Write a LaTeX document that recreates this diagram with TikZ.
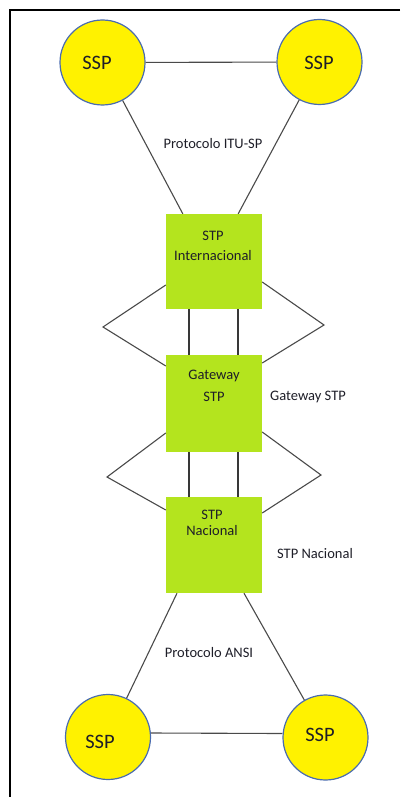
\documentclass[tikz,border=0pt]{standalone}
\usepackage{fontspec}
\setmainfont{Carlito}
\definecolor{sspfill}{HTML}{FFF200}
\definecolor{sspedge}{HTML}{4A6CB0}
\definecolor{stpfill}{HTML}{B4E41E}
\definecolor{linkgray}{HTML}{4A4A4A}
\definecolor{trunkgray}{HTML}{383838}
\definecolor{inkdark}{HTML}{1E1E28}
\tikzset{
  ssp/.style={circle, fill=sspfill, draw=sspedge, line width=1.2pt,
              minimum size=85pt, inner sep=0pt},
  stpbox/.style={rectangle, fill=stpfill, minimum width=96pt,
                 minimum height=95pt, inner sep=0pt},
  ssptext/.style={text=inkdark, font=\fontsize{20.5}{22}\selectfont, inner sep=0pt},
  boxtext/.style={text=inkdark, font=\fontsize{14.5}{20}\selectfont,
                  align=center, inner sep=0pt},
  lbl/.style={text=inkdark, font=\fontsize{14.5}{17}\selectfont, inner sep=0pt},
  link/.style={draw=linkgray, line width=1.1pt},
  trunk/.style={draw=trunkgray, line width=1.9pt},
  frameline/.style={draw=black, line width=2.2pt}
}
\begin{document}
\begin{tikzpicture}[x=1pt, y=-1pt]
\useasboundingbox (0,0) rectangle (400,797);

% page frame (top and left rules)
\draw[frameline] (400,10) -- (10,10) -- (10,797);

% signalling points
\node[ssp] (ssptl) at (102.5,62.5) {};
\node[ssp] (ssptr) at (319.5,62) {};
\node[ssp] (sspbl) at (108,737) {};
\node[ssp] (sspbr) at (325.5,737.5) {};

% transfer points
\node[stpbox, minimum height=95pt] (stpi) at (214,261.5) {};
\node[stpbox, minimum height=97pt] (gw) at (214,403.5) {};
\node[stpbox, minimum height=96pt] (stpn) at (214,545) {};

% diamond tips
\coordinate (tipal) at (103,327);
\coordinate (tipar) at (324,325);
\coordinate (tipbl) at (107,477);
\coordinate (tipbr) at (321,475);

% upper triangle
\draw[link] (ssptl) -- (ssptr);
\draw[link] (ssptl) -- ([xshift=17pt]stpi.north west);
\draw[link] (ssptr) -- ([xshift=-24pt]stpi.north east);

% STP Internacional <-> Gateway
\draw[trunk] ([xshift=-25pt]stpi.south) -- ([xshift=-25pt]gw.north);
\draw[trunk] ([xshift=24pt]stpi.south) -- ([xshift=24pt]gw.north);
\draw[link] ([yshift=-23.5pt]stpi.west) -- (tipal) -- ([yshift=37.5pt]gw.west);
\draw[link] ([yshift=-20.5pt]stpi.east) -- (tipar) -- ([yshift=40.5pt]gw.east);

% Gateway <-> STP Nacional
\draw[trunk] ([xshift=-25pt]gw.south) -- ([xshift=-25pt]stpn.north);
\draw[trunk] ([xshift=24pt]gw.south) -- ([xshift=24pt]stpn.north);
\draw[link] ([yshift=-29.5pt]gw.west) -- (tipbl) -- ([yshift=35pt]stpn.west);
\draw[link] ([yshift=-28.5pt]gw.east) -- (tipbr) -- ([yshift=32pt]stpn.east);

% lower triangle
\draw[link] ([xshift=-37pt]stpn.south) -- (sspbl);
\draw[link] ([xshift=30pt]stpn.south) -- (sspbr);
\draw[link] ([yshift=4pt]sspbl.east) -- ([yshift=4pt]sspbr.west);

% texts
\node[ssptext] (ssptlt) at (97,63) {SSP};
\node[ssptext] (ssptrt) at (319,63) {SSP};
\node[ssptext] (sspblt) at (100,742) {SSP};
\node[ssptext] (sspbrt) at (320,735) {SSP};

\node[boxtext] (stpit) at (213,246) {STP\\Internacional};
\node[boxtext, font=\fontsize{14.5}{22}\selectfont] (gwt) at (214,386) {Gateway\\STP};
\node[boxtext, font=\fontsize{14.5}{16}\selectfont] (stpnt) at (212,523) {STP\\Nacional};

\node[lbl] (itu) at (213,144) {Protocolo ITU-SP};
\node[lbl] (gwl) at (308,397) {Gateway STP};
\node[lbl] (stpnl) at (315,554) {STP Nacional};
\node[lbl] (ansi) at (209,653) {Protocolo ANSI};
\end{tikzpicture}
\end{document}
